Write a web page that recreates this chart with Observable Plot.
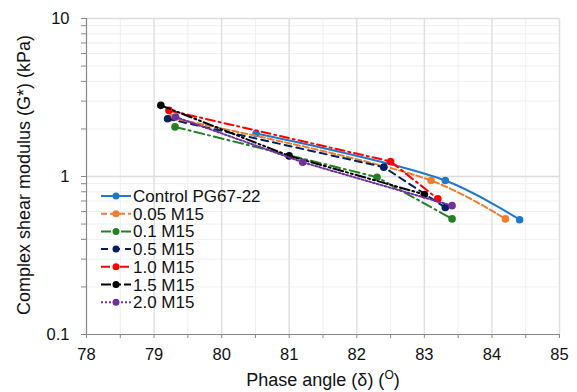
<!DOCTYPE html>
<html>
<head>
<meta charset="utf-8">
<script src="https://cdn.jsdelivr.net/npm/d3@7"></script>
<script src="https://cdn.jsdelivr.net/npm/@observablehq/plot@0.6"></script>
<style>
  html, body { margin: 0; padding: 0; background: #fff; }
  #chart svg { display: block; font-family: "Liberation Sans", Arial, sans-serif; }
</style>
</head>
<body>
<div id="chart"></div>
<script>
// ---- data ----
const seriesNames = ["Control PG67-22", "0.05 M15", "0.1 M15", "0.5 M15", "1.0 M15", "1.5 M15", "2.0 M15"];
const controlPhase = [80.51, 83.31, 84.41];
const controlG     = [1.87, 0.943, 0.533];
const m005Phase    = [79.25, 83.1, 84.2];
const m005G        = [2.35, 0.943, 0.539];
const m01Phase     = [79.31, 82.3, 83.41];
const m01G         = [2.06, 0.99, 0.539];
const m05Phase     = [79.2, 82.4, 83.31];
const m05G         = [2.32, 1.146, 0.636];
const m10Phase     = [79.22, 82.5, 83.2];
const m10G         = [2.62, 1.245, 0.722];
const m15Phase     = [79.1, 81.0, 83.0];
const m15G         = [2.82, 1.35, 0.77];
const m20Phase     = [79.32, 81.2, 83.41];
const m20G         = [2.38, 1.23, 0.654];

const xTickLabels = [78, 79, 80, 81, 82, 83, 84, 85];
const yTickLabels = [0.1, 1, 10];

// ---- styles ----
const colors = ["#1f78c8", "#ed7d31", "#238023", "#002060", "#ff0000", "#000000", "#7030a0"];
const dashes = ["none", "6,3", "10,4,2,4", "7,5", "9,4,2,4", "10,3,2,3,2,3", "2,2"];
const curves = ["catmull-rom", "catmull-rom", "linear", "linear", "linear", "linear", "linear"];

const phases = [controlPhase, m005Phase, m01Phase, m05Phase, m10Phase, m15Phase, m20Phase];
const moduli = [controlG, m005G, m01G, m05G, m10G, m15G, m20G];

const seriesData = seriesNames.map((name, i) =>
  phases[i].map((p, j) => ({series: name, phase: p, g: moduli[i][j]}))
);

// ticks
const xHalf = d3.range(78, 85.001, 0.5);
const yMinor = [];
for (const dec of [0.1, 1]) for (let k = 2; k <= 9; k++) yMinor.push(+(dec * k).toFixed(3));
const yAllTicks = [...yTickLabels, ...yMinor].sort((a, b) => a - b);

const FONT = "Liberation Sans, Arial, sans-serif";

const marks = [
  Plot.ruleX(xHalf.filter(d => !Number.isInteger(d)), {stroke: "#efefef", strokeWidth: 1}),
  Plot.ruleY(yMinor, {stroke: "#efefef", strokeWidth: 1}),
  Plot.ruleX(xTickLabels.slice(1), {stroke: "#e0e0e0", strokeWidth: 1.5}),
  Plot.ruleY(yTickLabels.slice(1), {stroke: "#dcdcdc", strokeWidth: 1.5}),
  Plot.axisX(xHalf, {
    tickSize: 4, tickPadding: 10, fontSize: 16.5, stroke: "#888",
    tickFormat: d => Number.isInteger(d) ? String(d) : "", label: null
  }),
  Plot.axisY(yAllTicks, {
    tickSize: 5, tickPadding: 12, fontSize: 16.5, stroke: "#888",
    tickFormat: d => yTickLabels.includes(d) ? String(d) : "", label: null
  }),
  Plot.ruleX([78], {stroke: "#888", strokeWidth: 1.2}),
  Plot.ruleY([0.1], {stroke: "#888", strokeWidth: 1.2})
];

seriesData.forEach((data, i) => {
  marks.push(Plot.line(data, {
    x: "phase", y: "g", stroke: colors[i], strokeWidth: 2,
    strokeDasharray: dashes[i], curve: curves[i]
  }));
  marks.push(Plot.dot(data, {x: "phase", y: "g", fill: colors[i], r: 3.8}));
});

const plot = Plot.plot({
  width: 577, height: 392,
  marginLeft: 86, marginRight: 18, marginTop: 18, marginBottom: 58,
  style: {fontFamily: FONT, fontSize: "16px", color: "#111", background: "#fff"},
  x: {domain: [78, 85]},
  y: {type: "log", domain: [0.1, 10]},
  marks
});

const svg = d3.select(plot);

// axis titles
const xt = svg.append("text")
  .attr("x", 323).attr("y", 386)
  .attr("text-anchor", "middle")
  .attr("font-size", 18).attr("font-family", FONT).attr("fill", "#111");
xt.append("tspan").text("Phase angle (δ) (");
xt.append("tspan").text("O").attr("font-size", 12).attr("dy", -7);
xt.append("tspan").text(")").attr("dy", 7);

svg.append("text")
  .attr("transform", "translate(30,175) rotate(-90)")
  .attr("text-anchor", "middle")
  .attr("font-size", 18).attr("font-family", FONT).attr("fill", "#111")
  .text("Complex shear modulus (G*) (kPa)");

// legend
const legend = svg.append("g");
seriesNames.forEach((name, i) => {
  const cy = 196 + i * 17.7;
  legend.append("line")
    .attr("x1", 101).attr("x2", 131).attr("y1", cy).attr("y2", cy)
    .attr("stroke", colors[i]).attr("stroke-width", 2)
    .attr("stroke-dasharray", dashes[i] === "none" ? null : dashes[i]);
  legend.append("circle").attr("cx", 116).attr("cy", cy).attr("r", 3.5).attr("fill", colors[i]);
  legend.append("text")
    .attr("x", 133).attr("y", cy + 6)
    .attr("text-anchor", "start")
    .attr("font-size", 17).attr("font-family", FONT).attr("fill", "#111")
    .text(name);
});

document.getElementById("chart").appendChild(plot);
</script>
</body>
</html>
